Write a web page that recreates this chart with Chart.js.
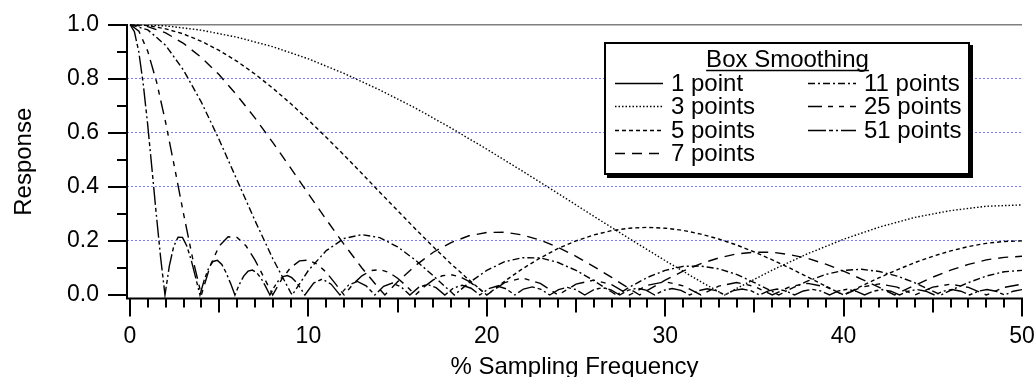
<!DOCTYPE html>
<html>
<head>
<meta charset="utf-8">
<title>Box Smoothing Response</title>
<script src="https://cdn.jsdelivr.net/npm/chart.js@4.4.1/dist/chart.umd.min.js"></script>
<style>
  html, body { margin: 0; padding: 0; background: #fff; }
  #wrap { width: 1036px; height: 377px; }
</style>
</head>
<body>
<div id="wrap"><canvas id="responseChart" width="1036" height="377"></canvas></div>
<script>
const boxLabels = ["1 point", "3 points", "5 points", "7 points", "11 points", "25 points", "51 points"];
const tickX = [0, 10, 20, 30, 40, 50];
const tickY = [0, 0.2, 0.4, 0.6, 0.8, 1.0];

const x1 = [0, 50];
const y1 = [1, 1];

const x3 = [0, 2, 4, 6, 8, 10, 12, 14, 16, 18, 20, 22, 24, 26, 28, 30, 32, 33.333, 34, 36, 38, 40, 42, 44, 46, 48, 50];
const y3 = [1, 0.995, 0.979, 0.953, 0.918, 0.873, 0.819, 0.758, 0.691, 0.617, 0.539, 0.458, 0.375, 0.291, 0.208, 0.127, 0.049, 0, 0.024, 0.092, 0.153, 0.206, 0.251, 0.287, 0.312, 0.328, 0.333];

const x5 = [0, 1, 2, 3, 4, 5, 6, 7, 8, 9, 10, 11, 12, 13, 14, 15, 16, 17, 18, 19, 20, 21, 22, 23, 24, 25, 26, 27, 28, 29, 30, 31, 32, 33, 34, 35, 36, 37, 38, 39, 40, 41, 42, 43, 44, 45, 46, 47, 48, 49, 50];
const y5 = [1, 0.996, 0.984, 0.965, 0.938, 0.904, 0.864, 0.817, 0.765, 0.708, 0.647, 0.583, 0.517, 0.449, 0.380, 0.312, 0.244, 0.178, 0.115, 0.056, 0, 0.051, 0.097, 0.137, 0.172, 0.200, 0.222, 0.238, 0.247, 0.250, 0.247, 0.239, 0.225, 0.207, 0.185, 0.159, 0.130, 0.099, 0.066, 0.033, 0, 0.033, 0.064, 0.093, 0.120, 0.143, 0.163, 0.179, 0.191, 0.198, 0.200];

const x7 = [0, 1, 2, 3, 4, 5, 6, 7, 8, 9, 10, 11, 12, 13, 14, 14.286, 15, 16, 17, 18, 19, 20, 21, 22, 23, 24, 25, 26, 27, 28, 28.571, 29, 30, 31, 32, 33, 34, 35, 36, 37, 38, 39, 40, 41, 42, 42.857, 43, 44, 45, 46, 47, 48, 49, 50];
const y7 = [1, 0.992, 0.969, 0.930, 0.878, 0.814, 0.738, 0.655, 0.564, 0.470, 0.374, 0.279, 0.187, 0.100, 0.021, 0, 0.049, 0.109, 0.158, 0.194, 0.219, 0.231, 0.232, 0.222, 0.203, 0.176, 0.143, 0.105, 0.065, 0.023, 0, 0.017, 0.055, 0.088, 0.116, 0.137, 0.152, 0.158, 0.158, 0.149, 0.135, 0.114, 0.088, 0.059, 0.028, 0, 0.005, 0.036, 0.066, 0.092, 0.113, 0.130, 0.139, 0.143];

const x11 = [0, 1, 2, 3, 4, 5, 6, 7, 8, 9, 9.091, 10, 11, 12, 13, 14, 15, 16, 17, 18, 18.182, 19, 20, 21, 22, 23, 24, 25, 26, 27, 27.273, 28, 29, 30, 31, 32, 33, 34, 35, 36, 36.364, 37, 38, 39, 40, 41, 42, 43, 44, 45, 45.455, 46, 47, 48, 49, 50];
const y11 = [1, 0.980, 0.923, 0.831, 0.713, 0.574, 0.425, 0.276, 0.135, 0.010, 0, 0.091, 0.164, 0.209, 0.223, 0.212, 0.178, 0.129, 0.071, 0.011, 0, 0.045, 0.091, 0.123, 0.138, 0.137, 0.120, 0.091, 0.053, 0.011, 0, 0.029, 0.065, 0.091, 0.106, 0.107, 0.097, 0.076, 0.046, 0.013, 0, 0.022, 0.052, 0.076, 0.091, 0.095, 0.087, 0.070, 0.045, 0.014, 0, 0.017, 0.046, 0.070, 0.086, 0.091];

const x25 = [0, 0.5, 1, 1.5, 2, 2.5, 3, 3.5, 4, 4.5, 5, 5.5, 6, 6.5, 7, 7.5, 8, 8.5, 9, 9.5, 10, 10.5, 11, 11.5, 12, 12.5, 13, 13.5, 14, 14.5, 15, 15.5, 16, 16.5, 17, 17.5, 18, 18.5, 19, 19.5, 20,
  21, 22, 23, 24, 25, 26, 27, 28, 29, 30, 31, 32, 33, 34, 35, 36, 37, 38, 39, 40, 41, 42, 43, 44, 45, 46, 47, 48, 49, 50];
const y25 = [1, 0.975, 0.900, 0.785, 0.637, 0.471, 0.301, 0.139, 0, 0.109, 0.181, 0.215, 0.213, 0.182, 0.130, 0.066, 0, 0.058, 0.101, 0.126, 0.129, 0.114, 0.084, 0.043, 0, 0.040, 0.071, 0.090, 0.094, 0.084, 0.062, 0.033, 0, 0.031, 0.056, 0.071, 0.075, 0.067, 0.050, 0.027, 0,
  0.046, 0.063, 0.043, 0, 0.040, 0.055, 0.038, 0, 0.036, 0.049, 0.034, 0, 0.033, 0.046, 0.032, 0, 0.031, 0.043, 0.030, 0, 0.029, 0.041, 0.029, 0, 0.029, 0.040, 0.028, 0, 0.028, 0.040];

const x51 = [0, 0.245, 0.49, 0.735, 0.98, 1.225, 1.471, 1.716, 1.961, 2.206, 2.451, 2.696, 2.941, 3.186, 3.431, 3.676, 3.922, 4.167, 4.412, 4.657, 4.902, 5.147, 5.392, 5.637, 5.882, 6.127, 6.373, 6.618, 6.863, 7.108, 7.353, 7.598, 7.843, 8.088, 8.333, 8.578, 8.824, 9.069, 9.314, 9.559, 9.804,
  10.294, 10.784, 11.275, 11.765, 12.255, 12.745, 13.235, 13.725, 14.216, 14.706, 15.196, 15.686, 16.176, 16.667, 17.157, 17.647, 18.137, 18.627, 19.118, 19.608, 20.098, 20.588, 21.078, 21.569, 22.059, 22.549, 23.039, 23.529, 24.02, 24.51, 25, 25.49, 25.98, 26.471, 26.961, 27.451, 27.941, 28.431, 28.922, 29.412,
  29.902, 30.392, 30.882, 31.373, 31.863, 32.353, 32.843, 33.333, 33.824, 34.314, 34.804, 35.294, 35.784, 36.275, 36.765, 37.255, 37.745, 38.235, 38.725, 39.216, 39.706, 40.196, 40.686, 41.176, 41.667, 42.157, 42.647, 43.137, 43.627, 44.118, 44.608, 45.098, 45.588, 46.078, 46.569, 47.059, 47.549, 48.039, 48.529, 49.02, 49.51, 50];
const y51 = [1, 0.974, 0.900, 0.784, 0.637, 0.471, 0.300, 0.139, 0, 0.108, 0.180, 0.214, 0.213, 0.181, 0.129, 0.065, 0, 0.057, 0.100, 0.124, 0.128, 0.113, 0.082, 0.043, 0, 0.039, 0.070, 0.088, 0.092, 0.082, 0.061, 0.032, 0, 0.030, 0.054, 0.068, 0.072, 0.064, 0.048, 0.025, 0,
  0.044, 0.059, 0.040, 0, 0.037, 0.050, 0.034, 0, 0.032, 0.044, 0.030, 0, 0.028, 0.039, 0.027, 0, 0.026, 0.036, 0.025, 0, 0.023, 0.033, 0.023, 0, 0.022, 0.030, 0.021, 0, 0.020, 0.028, 0.020, 0, 0.019, 0.027, 0.019, 0, 0.018, 0.025, 0.018, 0,
  0.017, 0.024, 0.017, 0, 0.016, 0.023, 0.016, 0, 0.016, 0.022, 0.016, 0, 0.015, 0.022, 0.015, 0, 0.015, 0.021, 0.015, 0, 0.015, 0.021, 0.014, 0, 0.014, 0.020, 0.014, 0, 0.014, 0.020, 0.014, 0, 0.014, 0.020, 0.014, 0, 0.014, 0.020, 0.014, 0, 0.014, 0.020];

const FONT = '"Liberation Sans", Arial, Helvetica, sans-serif';

const seriesX = [x1, x3, x5, x7, x11, x25, x51];
const seriesY = [y1, y3, y5, y7, y11, y25, y51];
const dashes = [[], [1.5, 2], [4, 3], [10, 7], [7, 3, 2, 3], [14, 6, 5, 6, 5, 6], [18, 3, 4, 3, 2, 3]];

function toPoints(xs, ys) {
  return xs.map((x, i) => ({ x: x, y: ys[i] }));
}

// axis lines and tick marks, drawn Igor-style just outside the plot
const frameAxes = {
  id: "frameAxes",
  afterDatasetsDraw(chart) {
    const { ctx, chartArea } = chart;
    const x = chart.scales.x;
    const y = chart.scales.y;
    const left = chartArea.left;
    const bottom = chartArea.bottom - 0.5;
    ctx.save();
    ctx.strokeStyle = "#000";
    ctx.lineWidth = 2;
    ctx.beginPath();
    ctx.moveTo(left, Math.round(y.getPixelForValue(1)) - 1);
    ctx.lineTo(left, bottom + 1);
    ctx.moveTo(left - 1, bottom);
    ctx.lineTo(Math.round(x.getPixelForValue(50)) + 1, bottom);
    for (let i = 0; i <= 10; i++) {
      const py = Math.round(y.getPixelForValue(i / 10));
      ctx.moveTo(left, py);
      ctx.lineTo(left - (i % 2 ? 10 : 19), py);
    }
    for (let i = 0; i <= 50; i++) {
      const px = Math.round(x.getPixelForValue(i));
      const len = i % 10 === 0 ? 18 : i % 5 === 0 ? 14 : 9;
      ctx.moveTo(px, bottom);
      ctx.lineTo(px, bottom + len);
    }
    ctx.stroke();
    ctx.restore();
  },
};

// boxed legend with a drop shadow, two columns
const boxLegend = {
  id: "boxLegend",
  afterDraw(chart) {
    const ctx = chart.ctx;
    const box = { left: 604, top: 42, width: 366, height: 133 };
    ctx.save();
    ctx.fillStyle = "#000";
    ctx.fillRect(box.left + 3, box.top + 3, box.width, box.height);
    ctx.fillStyle = "#fff";
    ctx.fillRect(box.left, box.top, box.width, box.height);
    ctx.lineWidth = 2;
    ctx.strokeStyle = "#000";
    ctx.strokeRect(box.left + 1, box.top + 1, box.width - 2, box.height - 2);

    ctx.fillStyle = "#000";
    ctx.font = "24px " + FONT;
    ctx.textBaseline = "alphabetic";
    ctx.textAlign = "center";
    const title = "Box Smoothing";
    const tw = ctx.measureText(title).width;
    ctx.fillText(title, 787.5, 67);
    ctx.lineWidth = 1.5;
    ctx.beginPath();
    ctx.moveTo(787.5 - tw / 2, 70.5);
    ctx.lineTo(787.5 + tw / 2, 70.5);
    ctx.stroke();

    ctx.textAlign = "left";
    chart.data.datasets.forEach((ds, i) => {
      const col = i < 4 ? 0 : 1;
      const row = i < 4 ? i : i - 4;
      const base = 91 + row * 23.4;
      const lx = col ? 808 : 615;
      const tx = col ? 864 : 671;
      ctx.lineWidth = 1.4;
      ctx.setLineDash(ds.borderDash);
      ctx.beginPath();
      ctx.moveTo(lx, Math.round(base - 8) + 0.5);
      ctx.lineTo(lx + 48, Math.round(base - 8) + 0.5);
      ctx.stroke();
      ctx.setLineDash([]);
      ctx.fillText(ds.label, tx, base);
    });
    ctx.restore();
  },
};

const ctx = document.getElementById("responseChart").getContext("2d");
new Chart(ctx, {
  type: "line",
  data: {
    datasets: boxLabels.map((label, i) => ({
      label: label,
      data: toPoints(seriesX[i], seriesY[i]),
      borderColor: "#000",
      borderWidth: 1.4,
      borderDash: dashes[i],
      pointRadius: 0,
      fill: false,
      tension: 0,
    })),
  },
  options: {
    responsive: false,
    animation: false,
    events: [],
    layout: { padding: { top: 24.5, right: 14, bottom: 0, left: 0 } },
    plugins: {
      legend: { display: false },
      tooltip: { enabled: false },
    },
    scales: {
      x: {
        type: "linear",
        min: -0.168,
        max: 50,
        afterFit: (scale) => {
          scale.height = 78;
          scale.paddingLeft = 0;
          scale.paddingRight = 0;
        },
        afterBuildTicks: (scale) => { scale.ticks = tickX.map((v) => ({ value: v })); },
        grid: { display: false, drawTicks: false },
        border: { display: false },
        ticks: {
          padding: 24,
          color: "#000",
          font: { family: FONT, size: 23 },
          maxRotation: 0,
          callback: (v) => String(v),
        },
        title: {
          display: true,
          text: "% Sampling Frequency",
          color: "#000",
          font: { family: FONT, size: 24, lineHeight: 1 },
          padding: { top: 0, bottom: -2 },
        },
      },
      y: {
        type: "linear",
        min: -0.0148,
        max: 1,
        afterFit: (scale) => {
          scale.width = 127;
          scale.paddingTop = 0;
          scale.paddingBottom = 0;
        },
        afterBuildTicks: (scale) => { scale.ticks = tickY.map((v) => ({ value: v })); },
        grid: {
          drawTicks: false,
          lineWidth: 1,
          color: (c) => (c.tick && c.tick.value > 0.05 && c.tick.value < 0.95 ? "rgba(110,110,255,0.9)" : "rgba(0,0,0,0)"),
        },
        border: { display: false, dash: [2, 2] },
        ticks: {
          padding: 28,
          color: "#000",
          font: { family: FONT, size: 23 },
          callback: (v) => v.toFixed(1),
        },
        title: {
          display: true,
          text: "Response",
          color: "#000",
          font: { family: FONT, size: 24, lineHeight: 1 },
          padding: { top: 12, bottom: 0 },
        },
      },
    },
  },
  plugins: [frameAxes, boxLegend],
});
</script>
</body>
</html>
